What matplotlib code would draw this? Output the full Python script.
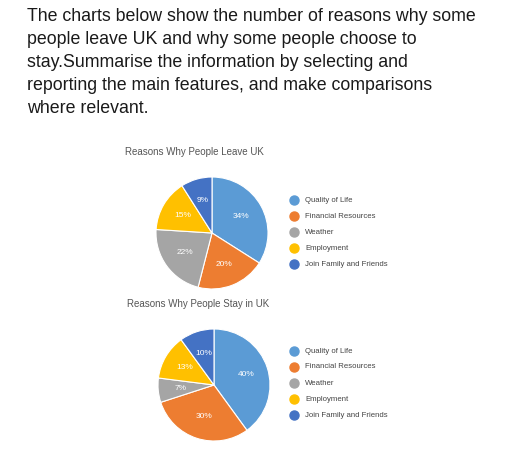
import matplotlib
matplotlib.use("Agg")
import matplotlib.pyplot as plt
from matplotlib.lines import Line2D

plt.rcParams['font.family'] = ['Liberation Sans', 'DejaVu Sans']

heading = ["The charts below show the number of reasons why some",
           "people leave UK and why some people choose to",
           "stay.Summarise the information by selecting and",
           "reporting the main features, and make comparisons",
           "where relevant."]

reasons = ["Quality of Life", "Financial Resources", "Weather",
           "Employment", "Join Family and Friends"]
leave_pct = [34, 20, 22, 15, 9]
stay_pct = [40, 30, 7, 13, 10]
colors = ["#5B9BD5", "#ED7D31", "#A5A5A5", "#FFC000", "#4472C4"]

W, H = 512, 469
fig = plt.figure(figsize=(W / 100, H / 100), dpi=100)

# heading text
for i, line in enumerate(heading):
    fig.text(27 / W, 1 - (21 + i * 23) / H, line, fontsize=12.75,
             color="#1a1a1a", va="baseline", ha="left")


def draw_pie(cx, cy, r, values, title, title_xy, legend_y):
    ax = fig.add_axes([(cx - r) / W, (H - cy - r) / H, 2 * r / W, 2 * r / H])
    ax.pie(values, colors=colors, startangle=90, counterclock=False,
           autopct=lambda p: "%d%%" % round(p), pctdistance=0.6,
           wedgeprops=dict(edgecolor="white", linewidth=0.8),
           textprops=dict(color="white", fontsize=6))
    ax.set_xlim(-1, 1)
    ax.set_ylim(-1, 1)
    fig.text(title_xy[0] / W, 1 - title_xy[1] / H, title, fontsize=7,
             color="#555555", va="center", ha="left")
    for j, (lab, c) in enumerate(zip(reasons, colors)):
        y = 1 - (legend_y + j * 16) / H
        fig.add_artist(Line2D([294 / W], [y], marker="o", markersize=6.5,
                              color=c, linestyle="", transform=fig.transFigure))
        fig.text(305 / W, y, lab, fontsize=5.6, color="#444444",
                 va="center", ha="left")


draw_pie(212, 233, 56, leave_pct, "Reasons Why People Leave UK", (125, 152), 200)
draw_pie(214, 385, 56, stay_pct, "Reasons Why People Stay in UK", (127, 304), 351)

fig.savefig("out.png", dpi=100)
